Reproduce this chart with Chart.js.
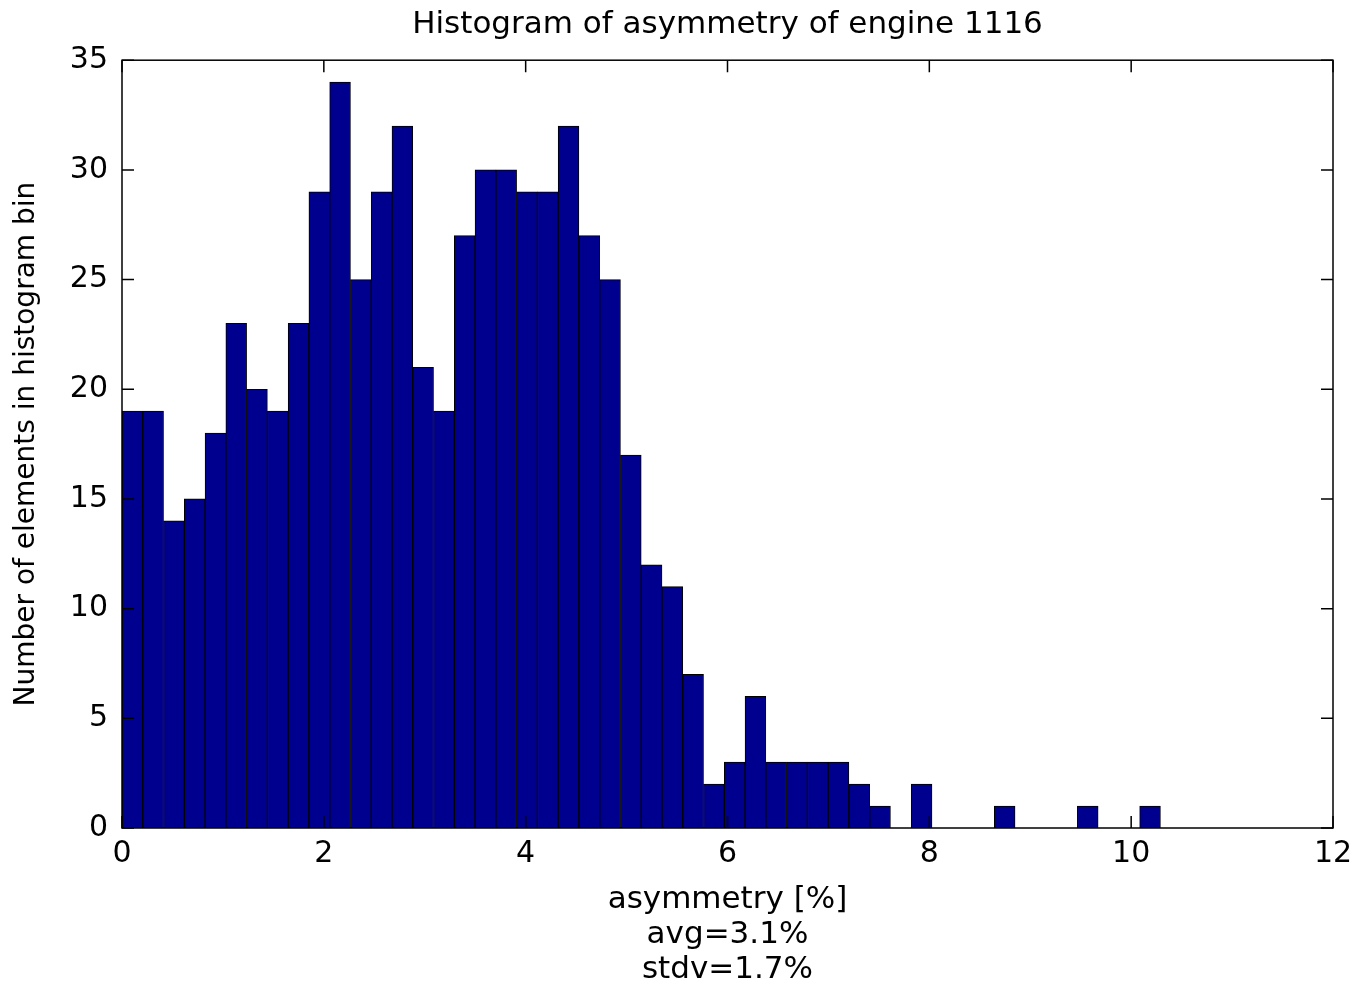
<!DOCTYPE html>
<html>
<head>
<meta charset="utf-8">
<title>Histogram of asymmetry of engine 1116</title>
<script src="https://cdn.jsdelivr.net/npm/chart.js@4"></script>
<style>
  html, body { margin: 0; padding: 0; background: #fff; }
  #chart { display: block; }
</style>
</head>
<body>
<canvas id="chart" width="1355" height="987"></canvas>
<script>
const titleText = "Histogram of asymmetry of engine 1116";
const xTitle = ["asymmetry [%]", "avg=3.1%", "stdv=1.7%"];
const yTitle = "Number of elements in histogram bin";

// MATLAB hist: 50 equal bins from min to max of the data
const binStart = 0;
const binEnd = 10.29;
const counts = [19, 19, 14, 15, 18, 23, 20, 19, 23, 29,
  34, 25, 29, 32, 21, 19, 27, 30, 30, 29,
  29, 32, 27, 25, 17, 12, 11, 7, 2, 3,
  6, 3, 3, 3, 3, 2, 1, 0, 2, 0,
  0, 0, 1, 0, 0, 0, 1, 0, 0, 1];
const xTicks = [0, 2, 4, 6, 8, 10, 12];
const yTicks = [0, 5, 10, 15, 20, 25, 30, 35];

const binWidth = (binEnd - binStart) / counts.length;
const binCenters = counts.map((_, i) => binStart + (i + 0.5) * binWidth);

const FONT = "'DejaVu Sans', Verdana, sans-serif";

// MATLAB style box with inward ticks on all four sides
const framePlugin = {
  id: "frame",
  afterDatasetsDraw(chart) {
    const { ctx, chartArea: a, scales: { x, y } } = chart;
    const len = 12;
    ctx.save();
    ctx.strokeStyle = "#000";
    ctx.lineWidth = 1.5;
    ctx.strokeRect(a.left, a.top, a.right - a.left, a.bottom - a.top);
    ctx.beginPath();
    x.ticks.forEach(t => {
      const px = x.getPixelForValue(t.value);
      ctx.moveTo(px, a.bottom);
      ctx.lineTo(px, a.bottom - len);
      ctx.moveTo(px, a.top);
      ctx.lineTo(px, a.top + len);
    });
    y.ticks.forEach(t => {
      const py = y.getPixelForValue(t.value);
      ctx.moveTo(a.left, py);
      ctx.lineTo(a.left + len, py);
      ctx.moveTo(a.right, py);
      ctx.lineTo(a.right - len, py);
    });
    ctx.stroke();
    ctx.restore();
  }
};

new Chart(document.getElementById("chart"), {
  type: "bar",
  data: {
    datasets: [{
      data: counts.map((c, i) => ({ x: binCenters[i], y: c })),
      backgroundColor: "#00008f",
      borderColor: "#000000",
      borderWidth: 1,
      barPercentage: 1,
      categoryPercentage: 1
    }]
  },
  options: {
    responsive: false,
    animation: false,
    layout: { padding: { top: 0, right: 22, bottom: 0, left: 0 } },
    plugins: {
      legend: { display: false },
      tooltip: { enabled: false },
      title: {
        display: true,
        fullSize: false,
        text: titleText,
        color: "#000",
        font: { family: FONT, size: 31, weight: "normal", lineHeight: 1.2 },
        padding: { top: 6, bottom: 17 }
      }
    },
    scales: {
      x: {
        type: "linear",
        min: 0,
        max: 12,
        offset: false,
        grid: { display: false, drawTicks: false, offset: false },
        border: { display: false },
        ticks: {
          color: "#000",
          font: { family: FONT, size: 30 },
          padding: 8,
          maxRotation: 0,
          autoSkip: false
        },
        afterBuildTicks: s => { s.ticks = xTicks.map(v => ({ value: v })); },
        afterFit: s => {
          s.height = 159;
          s.paddingLeft = 0;
          s.paddingRight = 0;
        },
        title: {
          display: true,
          text: xTitle,
          color: "#000",
          font: { family: FONT, size: 31, lineHeight: "35px" },
          padding: { top: 0, bottom: 0 }
        }
      },
      y: {
        min: 0,
        max: 35,
        grid: { display: false, drawTicks: false },
        border: { display: false },
        ticks: {
          color: "#000",
          font: { family: FONT, size: 30 },
          padding: 14
        },
        afterBuildTicks: s => { s.ticks = yTicks.map(v => ({ value: v })); },
        afterFit: s => { s.width = 122; },
        title: {
          display: true,
          text: yTitle,
          color: "#000",
          font: { family: FONT, size: 28 },
          padding: { top: 10, bottom: 0 }
        }
      }
    }
  },
  plugins: [framePlugin]
});
</script>
</body>
</html>
